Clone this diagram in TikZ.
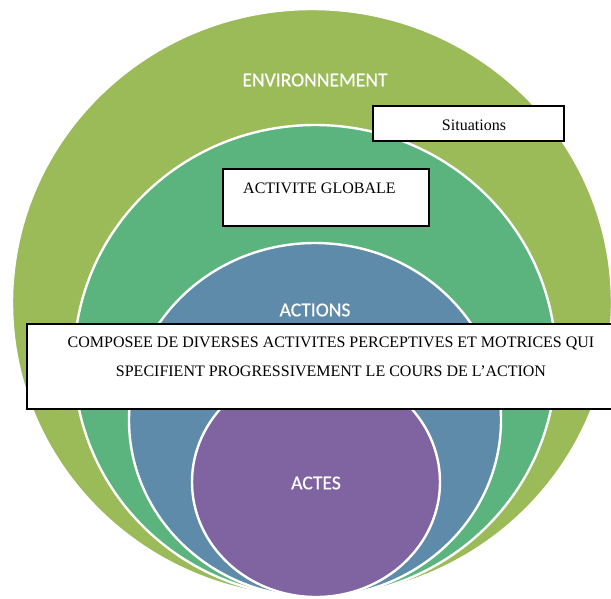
\documentclass[tikz,border=0pt]{standalone}
\usepackage{fontspec}
\setmainfont{Liberation Serif}
\newfontfamily\calfont{Carlito}[FakeBold=0.5]
\usetikzlibrary{positioning}
\definecolor{envgreen}{HTML}{9BBB59}
\definecolor{globgreen}{HTML}{5BB37E}
\definecolor{actblue}{HTML}{5F8BAB}
\definecolor{actpurple}{HTML}{8064A1}

\tikzset{
  ring/.style={draw=white, line width=2.4pt},
  ringlabel/.style={text=white, font=\calfont\fontsize{19.6}{21}\selectfont, inner sep=0pt},
  textbox/.style={draw=black, fill=white, line width=1.6pt, inner sep=0pt, anchor=north west},
  boxtext/.style={font=\fontsize{16}{18}\selectfont, inner sep=0pt}
}

\begin{document}
\begin{tikzpicture}[x=1pt, y=-1pt]
    \useasboundingbox (0,0) rectangle (611,598);
    \clip (0,0) rectangle (611,598);

    % Nested ovals, all touching at the bottom
    \fill[envgreen, ring] (312,303) ellipse [x radius=300, y radius=294];
    \fill[globgreen, ring] (315,361) ellipse [x radius=241, y radius=236];
    \fill[actblue, ring] (315,420) ellipse [x radius=186, y radius=177];
    \fill[actpurple, ring] (316,482) ellipse [x radius=124, y radius=115];

    % Oval labels
    \node[ringlabel] (env) at (315,80) {ENVIRONNEMENT};
    \node[ringlabel] (actions) at (315,310) {ACTIONS};
    \node[ringlabel] (actes) at (316,483) {ACTES};

    % Boxes
    \node[textbox, minimum width=191, minimum height=35] (sitbox) at (372,105) {};
    \node[boxtext] (sit) at (474,125) {Situations};

    \node[textbox, minimum width=206, minimum height=57] (globbox) at (222,168) {};
    \node[boxtext, anchor=west] (glob) at (243,188) {ACTIVITE GLOBALE};

    \node[textbox, minimum width=611, minimum height=85] (compbox) at (26,323) {};
    \node[boxtext] (comp1) at (331,343) {COMPOSEE DE DIVERSES ACTIVITES PERCEPTIVES ET MOTRICES QUI};
    \node[boxtext] (comp2) at (331,371) {SPECIFIENT PROGRESSIVEMENT LE COURS DE L’ACTION};
\end{tikzpicture}
\end{document}
